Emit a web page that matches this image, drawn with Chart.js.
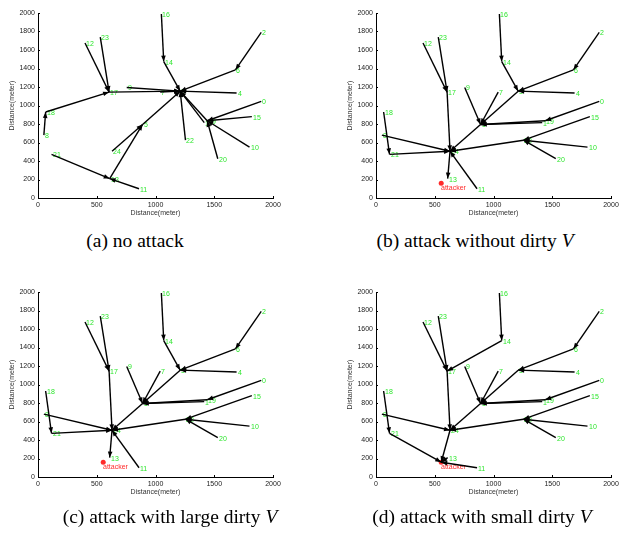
<!DOCTYPE html>
<html lang="en">
<head>
<meta charset="UTF-8">
<title>Routing trees under attack</title>
<script src="https://cdn.jsdelivr.net/npm/chart.js"></script>
<style>
  body { margin: 0; background: #fff; overflow: hidden; }
  .fig { position: relative; width: 626px; height: 533px; background: #fff; }
  .fig canvas { position: absolute; }
  .cap {
    position: absolute;
    font-family: "Liberation Serif", "Times New Roman", serif;
    font-size: 19.5px;
    line-height: 22px;
    color: #000;
    white-space: nowrap;
    transform: translateX(-50%);
  }
</style>
</head>
<body>
<div class="fig">
  <canvas id="chartA" width="300" height="230" style="left:0;top:0"></canvas>
  <canvas id="chartB" width="288" height="230" style="left:338px;top:0"></canvas>
  <canvas id="chartC" width="300" height="231" style="left:0;top:278px"></canvas>
  <canvas id="chartD" width="288" height="231" style="left:338px;top:278px"></canvas>
  <div class="cap" style="left:135px;top:230px">(a) no attack</div>
  <div class="cap" style="left:475px;top:230px">(b) attack without dirty <i>V</i></div>
  <div class="cap" style="left:170px;top:506px">(c) attack with large dirty <i>V</i></div>
  <div class="cap" style="left:482px;top:506px">(d) attack with small dirty <i>V</i></div>
</div>
<script>
// node positions (meters)
const nodeIds = [0, 1, 2, 3, 4, 5, 6, 7, 8, 9, 10, 11, 12, 13, 14, 15, 16, 17, 18, 19, 20, 21, 22, 23, 24];
const nodeX = [1900, 1415, 1900, 1210, 1690, 890, 1680, 1040, 50, 755, 1800, 860, 400, 610, 1070, 1820, 1050, 605, 65, 1440, 1530, 115, 1255, 530, 630];
const nodeY = [1045, 815, 1790, 1155, 1135, 795, 1385, 1145, 680, 1195, 550, 100, 1675, 210, 1475, 880, 1990, 1145, 930, 835, 425, 472, 625, 1740, 505];

// parent of each node, arrow goes node -> parent (-1 = none, -2 = attacker)
const parentA = [19, 3, 6, -1, 3, 3, 3, 3, 18, 3, 19, 13, 17, 5, 3, 19, 14, 3, 17, 3, 19, 13, 3, 17, 5];
const parentB = [19, 5, 6, 5, 3, 24, 3, 5, 24, 5, 22, 24, 17, -1, 3, 22, 14, 24, 21, 5, 22, 24, 24, 17, 13];
const parentC = [19, 5, 6, 5, 3, 24, 3, 5, 24, 5, 22, 24, 17, -1, 3, 22, 14, 24, 21, 5, 22, 24, 24, 17, 13];
const parentD = [19, 5, 6, 5, 3, 24, 3, 5, 24, 5, 22, -2, 17, -2, 17, 22, 14, 24, 21, 5, 22, -2, 24, 17, -2];

const attackerX = [555];
const attackerY = [160];

const xTicks = [0, 500, 1000, 1500, 2000];
const yTicks = [0, 200, 400, 600, 800, 1000, 1200, 1400, 1600, 1800, 2000];

const GREEN = '#2ee62e';
const RED = '#ff2a2a';
const FONT = '"Liberation Sans", Arial, sans-serif';

const netPlugin = {
  id: 'net',
  beforeDatasetsDraw(chart) {
    // labels go under the arrows, like in the original plot
    const ctx = chart.ctx, xs = chart.scales.x, ys = chart.scales.y;
    ctx.save();
    ctx.font = '7px ' + FONT;
    ctx.textBaseline = 'middle';
    ctx.fillStyle = GREEN;
    nodeIds.forEach((id, k) => {
      ctx.fillText(String(id), Math.round(xs.getPixelForValue(nodeX[k])) + 1, Math.round(ys.getPixelForValue(nodeY[k])) + 1);
    });
    if (chart.options.plugins.net.attacker) {
      ctx.fillStyle = RED;
      ctx.fillText('attacker', Math.round(xs.getPixelForValue(attackerX[0])), Math.round(ys.getPixelForValue(attackerY[0])) + 5);
    }
    ctx.restore();
  },
  afterDatasetsDraw(chart) {
    const ctx = chart.ctx;
    ctx.save();
    ctx.fillStyle = '#000';
    chart.data.datasets.forEach((ds, i) => {
      if (!ds.edge) return;
      const pts = chart.getDatasetMeta(i).data;
      const a = pts[0], b = pts[1];
      const ang = Math.atan2(b.y - a.y, b.x - a.x);
      const len = 6, hw = 2.3;
      const c = Math.cos(ang), s = Math.sin(ang);
      ctx.beginPath();
      ctx.moveTo(b.x, b.y);
      ctx.lineTo(b.x - len * c + hw * s, b.y - len * s - hw * c);
      ctx.lineTo(b.x - len * c - hw * s, b.y - len * s + hw * c);
      ctx.closePath();
      ctx.fill();
    });
    ctx.restore();
  },
  afterDraw(chart) {
    // small inward tick marks
    const ctx = chart.ctx, xs = chart.scales.x, ys = chart.scales.y, area = chart.chartArea;
    ctx.save();
    ctx.strokeStyle = '#000';
    ctx.lineWidth = 1;
    ctx.beginPath();
    xTicks.forEach(v => {
      const px = Math.round(xs.getPixelForValue(v)) + 0.5;
      ctx.moveTo(px, area.bottom);
      ctx.lineTo(px, area.bottom - 2);
    });
    yTicks.forEach(v => {
      const py = Math.round(ys.getPixelForValue(v)) + 0.5;
      ctx.moveTo(area.left, py);
      ctx.lineTo(area.left + 2, py);
    });
    ctx.stroke();
    ctx.restore();
  }
};

function axis(ticks, isX) {
  return {
    type: 'linear',
    min: 0,
    max: 2000,
    afterBuildTicks: s => { s.ticks = ticks.map(v => ({ value: v })); },
    afterFit: s => { if (isX) s.height = 32; else s.width = 38; },
    grid: { display: true, drawOnChartArea: false, drawTicks: false },
    border: { display: true, color: '#000', width: 1 },
    ticks: {
      font: { family: FONT, size: 7 },
      color: '#222',
      padding: 3,
      maxRotation: 0,
      autoSkip: false,
      callback: v => String(v)
    },
    title: {
      display: true,
      text: 'Distance(meter)',
      font: { family: FONT, size: 7 },
      color: '#333',
      padding: isX ? { top: 0, bottom: 13 } : { top: 8, bottom: 0 }
    }
  };
}

function pointOf(idx) {
  if (idx === -2) return { x: attackerX[0], y: attackerY[0] };
  return { x: nodeX[idx], y: nodeY[idx] };
}

function makeChart(id, parents, withAttacker, pad) {
  const datasets = [];
  parents.forEach((p, k) => {
    if (p === -1) return;
    datasets.push({
      edge: true,
      data: [pointOf(k), pointOf(p)],
      showLine: true,
      borderColor: '#000',
      borderWidth: 1.4,
      pointRadius: 0,
      pointHoverRadius: 0
    });
  });
  if (withAttacker) {
    // last dataset is drawn first, so the arrows cover the dot
    datasets.push({
      data: attackerX.map((x, i) => ({ x: x, y: attackerY[i] })),
      pointRadius: 2.5,
      backgroundColor: RED,
      borderColor: RED,
      borderWidth: 0
    });
  }
  new Chart(document.getElementById(id), {
    type: 'scatter',
    data: { datasets: datasets },
    options: {
      responsive: false,
      animation: false,
      layout: { padding: pad },
      plugins: {
        legend: { display: false },
        tooltip: { enabled: false },
        net: { attacker: withAttacker }
      },
      scales: { x: axis(xTicks, true), y: axis(yTicks, false) }
    },
    plugins: [netPlugin]
  });
}

makeChart('chartA', parentA, false, { left: 0, top: 13, right: 27, bottom: 0 });
makeChart('chartB', parentB, true, { left: 0, top: 13, right: 15, bottom: 0 });
makeChart('chartC', parentC, true, { left: 0, top: 14, right: 27, bottom: 0 });
makeChart('chartD', parentD, true, { left: 0, top: 14, right: 15, bottom: 0 });
</script>
</body>
</html>
